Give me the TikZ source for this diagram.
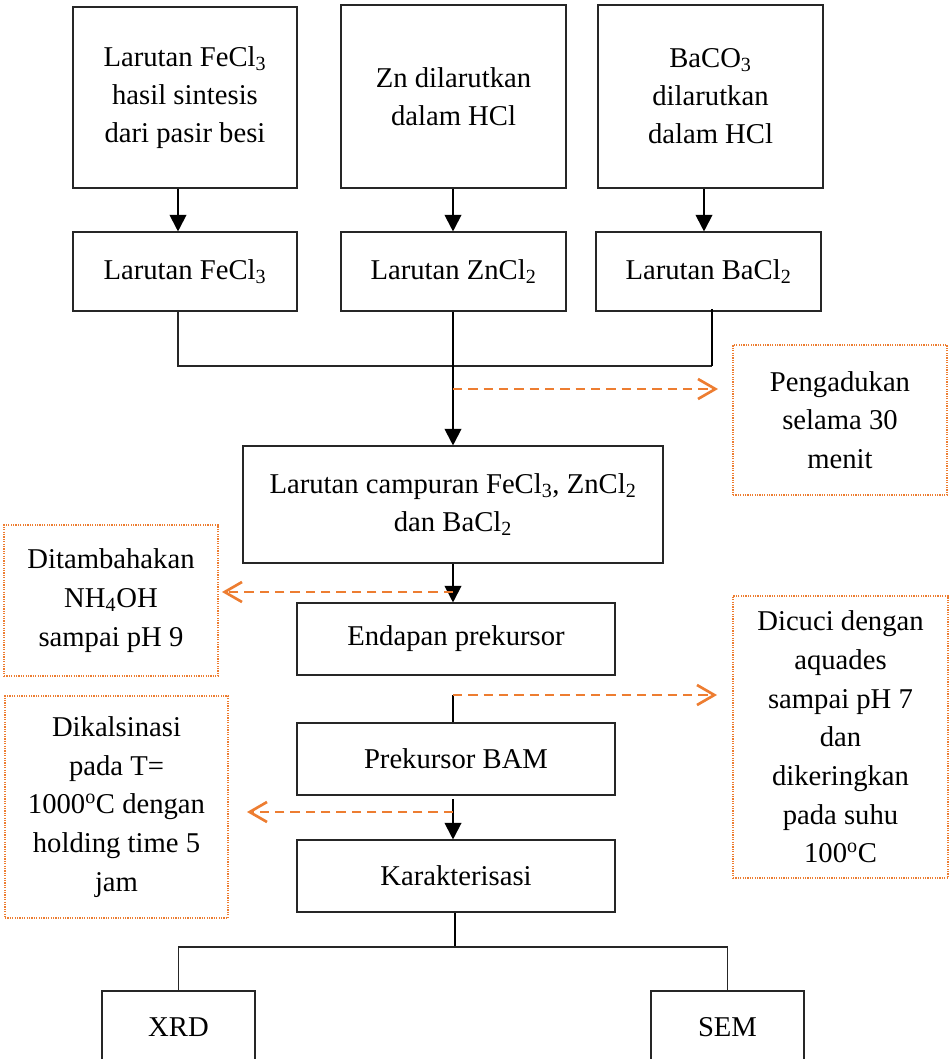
\documentclass[tikz,border=0pt]{standalone}
\usepackage{fontspec}
\setmainfont{Liberation Serif}
\usetikzlibrary{arrows.meta}
\definecolor{orng}{RGB}{237,125,49}
\newcommand\sbs[1]{\textsubscript{#1}}
\newcommand\dgo{\textsuperscript{o}}
\begin{document}
\begin{tikzpicture}[x=0.75pt,y=-0.75pt,
  wh/.style 2 args={minimum width=#1*0.75pt, minimum height=#2*0.75pt},
  box/.style={draw=black!85, line width=0.8pt, align=center, inner sep=0pt,
    font=\fontsize{21.5}{28.5}\selectfont},
  note/.style={draw=orng, line width=0.9pt, dash pattern=on 0.9pt off 0.9pt,
    align=center, inner sep=0pt, font=\fontsize{21.5}{29}\selectfont},
  arr/.style={line width=1.5pt, -{Triangle[length=12.5pt,width=12.5pt]}},
  thickln/.style={line width=1.5pt},
  thinln/.style={line width=0.8pt, draw=black!85},
  dasharr/.style={draw=orng, line width=2pt, dash pattern=on 7pt off 4.5pt,
    -{Straight Barb[length=13pt,width=15pt,line width=2pt]}}]
\useasboundingbox (0,0) rectangle (949,1059);
\clip (0,0) rectangle (949,1059);

% top row
\node[box, wh={224}{181}] (A) at (185,97.5) {Larutan FeCl\sbs{3}\\hasil sintesis\\dari pasir besi};
\node[box, wh={225}{183}] (B) at (453.5,96.5) {Zn dilarutkan\\dalam HCl};
\node[box, wh={225}{183}] (C) at (710.5,96.5) {BaCO\sbs{3}\\dilarutkan\\dalam HCl};
% second row
\node[box, wh={224}{79}] (D) at (185,271.5) {Larutan FeCl\sbs{3}};
\node[box, wh={225}{79}] (E) at (453.5,271.5) {Larutan ZnCl\sbs{2}};
\node[box, wh={225}{79}] (F) at (708.5,271.5) {Larutan BaCl\sbs{2}};
% main column
\node[box, wh={420}{117}] (G) at (453,504.5) {Larutan campuran FeCl\sbs{3}, ZnCl\sbs{2}\\dan BaCl\sbs{2}};
\node[box, wh={318}{72}] (H) at (456,639) {Endapan prekursor};
\node[box, wh={318}{72}] (I) at (456,759) {Prekursor BAM};
\node[box, wh={318}{72}] (J) at (456,876) {Karakterisasi};
\node[box, wh={153}{72}] (XRD) at (178.5,1027) {XRD};
\node[box, wh={153}{72}] (SEM) at (727.5,1027) {SEM};

% notes
\node[note, wh={214}{150}] (P) at (840,420) {Pengadukan\\selama 30\\menit};
\node[note, wh={214}{151}] (N) at (111,600.5) {Ditambahakan\\NH\sbs{4}OH\\sampai pH 9};
\node[note, wh={215}{282}] (W) at (840.5,737) {Dicuci dengan\\aquades\\sampai pH 7\\dan\\dikeringkan\\pada suhu\\100\dgo C};
\node[note, wh={223}{222}] (K) at (116.5,807) {Dikalsinasi\\pada T=\\1000\dgo C dengan\\holding time 5\\jam};

% columns
\coordinate (colA) at (178,0);
\coordinate (colB) at (453,0);
\coordinate (colC) at (704,0);
\coordinate (colF) at (712,0);

\draw[arr] (A.south -| colA) -- (D.north -| colA);
\draw[arr] (B.south -| colB) -- (E.north -| colB);
\draw[arr] (C.south -| colC) -- (F.north -| colC);

\coordinate (jn) at (712,366);
\draw[thinln] (D.south -| colA) |- (jn);
\draw[thickln] ([yshift=2pt]F.south -| colF) -- (jn);
\draw[arr] (E.south -| colB) -- (G.north -| colB);

\coordinate (d1s) at (453,389);
\coordinate (d1e) at (718,389);
\draw[dasharr] (d1s) -- (d1e);

\draw[arr] (G.south -| colB) -- (H.north -| colB);
\coordinate (d2s) at (453,592);
\coordinate (d2e) at (222,592);
\draw[dasharr] (d2s) -- (d2e);

\coordinate (t3) at (453,695);
\draw[thickln] (t3) -- (I.north -| colB);
\coordinate (d3e) at (717,695);
\draw[dasharr] (t3) -- (d3e);

\coordinate (t4) at (453,799);
\draw[arr] (t4) -- (J.north -| colB);
\coordinate (d4s) at (453,812);
\coordinate (d4e) at (247,812);
\draw[dasharr] (d4s) -- (d4e);

\coordinate (jb) at (455,947);
\draw[thickln] (J.south -| jb) -- (jb);
\draw[thinln] (XRD.north) |- (jb) -| (SEM.north);
\end{tikzpicture}
\end{document}
